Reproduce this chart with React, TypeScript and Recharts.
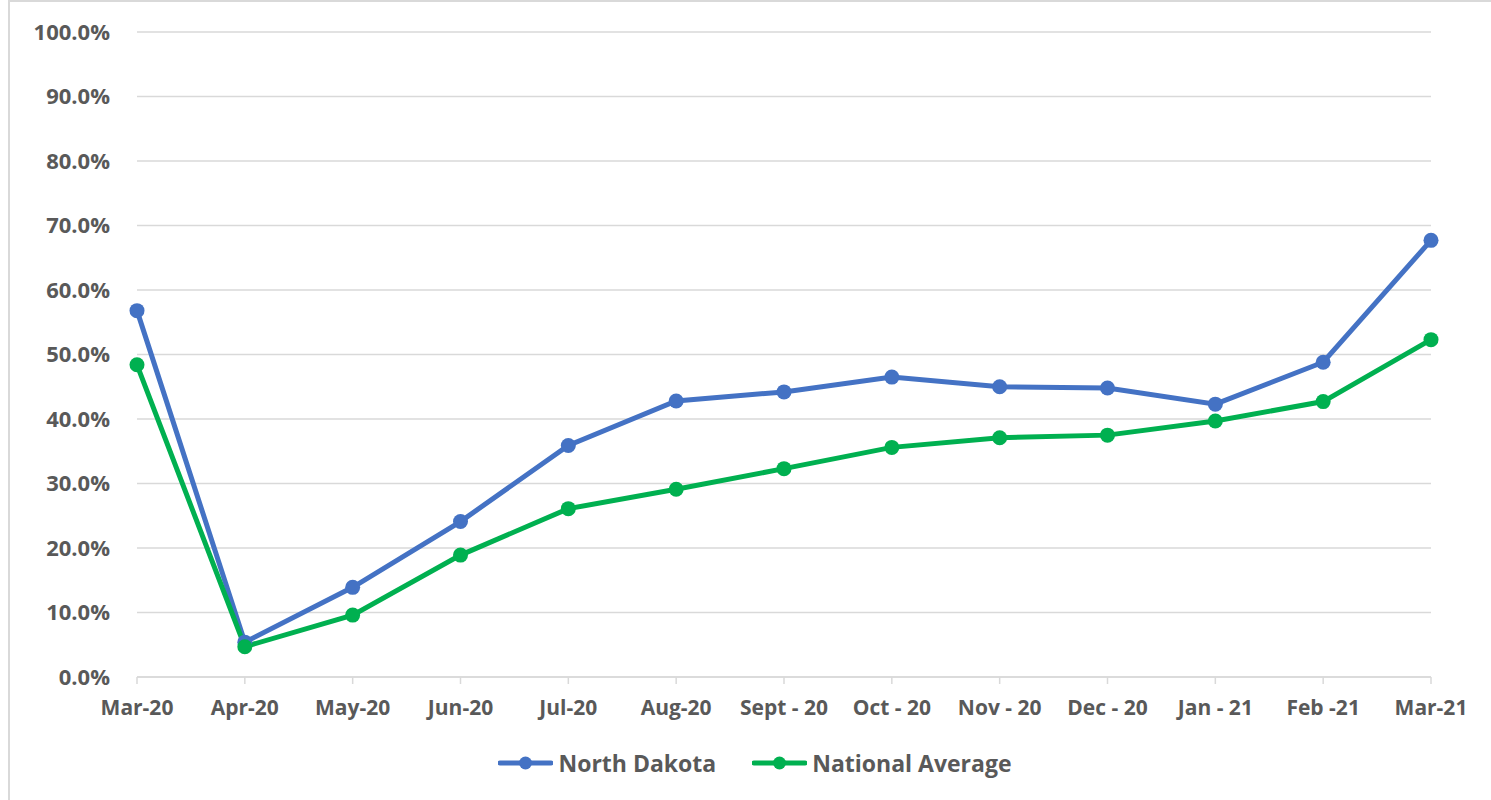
import { LineChart, Line, XAxis, YAxis, CartesianGrid } from "recharts";

const MONTHS = [
  "Mar-20",
  "Apr-20",
  "May-20",
  "Jun-20",
  "Jul-20",
  "Aug-20",
  "Sept - 20",
  "Oct - 20",
  "Nov - 20",
  "Dec - 20",
  "Jan - 21",
  "Feb -21",
  "Mar-21",
];

// percent values
const NORTH_DAKOTA = [56.8, 5.4, 13.9, 24.1, 35.9, 42.8, 44.2, 46.5, 45.0, 44.8, 42.3, 48.8, 67.7];
const NATIONAL_AVG = [48.4, 4.7, 9.6, 18.9, 26.1, 29.1, 32.3, 35.6, 37.1, 37.5, 39.7, 42.7, 52.3];

const Y_TICKS = [0, 10, 20, 30, 40, 50, 60, 70, 80, 90, 100];

const BLUE = "#4472C4";
const GREEN = "#00B050";
const GRID = "#d9d9d9";
const TEXT = "#595959";
const FONT = "'Open Sans', Lato, sans-serif";

const data = MONTHS.map((month, i) => ({
  month,
  nd: NORTH_DAKOTA[i],
  na: NATIONAL_AVG[i],
}));

const tickStyle = { fontSize: 21, fontWeight: 700, fill: TEXT, fontFamily: FONT };

export default function App() {
  return (
    <div
      style={{
        position: "absolute",
        left: 0,
        top: 0,
        width: 1491,
        height: 800,
        overflow: "hidden",
        background: "#fff",
      }}
    >
      {/* chart frame */}
      <div
        style={{
          position: "absolute",
          left: 8,
          top: 0,
          width: 1600,
          height: 900,
          border: `2px solid ${GRID}`,
        }}
      />
      <div style={{ position: "absolute", left: 0, top: 0 }}>
        <LineChart
          width={1491}
          height={800}
          data={data}
          margin={{ top: 32, right: 60, left: 0, bottom: 73 }}
        >
          <CartesianGrid vertical={false} stroke={GRID} strokeWidth={1.5} />
          <XAxis
            dataKey="month"
            height={50}
            interval={0}
            axisLine={{ stroke: GRID, strokeWidth: 1.5 }}
            tickLine={{ stroke: GRID, strokeWidth: 1.5 }}
            tickSize={7}
            tickMargin={16}
            tick={tickStyle}
          />
          <YAxis
            width={137}
            domain={[0, 100]}
            ticks={Y_TICKS}
            interval={0}
            axisLine={false}
            tickLine={false}
            tickSize={0}
            tickMargin={27}
            tick={{ ...tickStyle, fontSize: 22 }}
            tickFormatter={(v) => `${Number(v).toFixed(1)}%`}
          />
          <Line
            dataKey="nd"
            name="North Dakota"
            stroke={BLUE}
            strokeWidth={5}
            dot={{ r: 7.5, fill: BLUE, stroke: "none" }}
            activeDot={false}
            isAnimationActive={false}
          />
          <Line
            dataKey="na"
            name="National Average"
            stroke={GREEN}
            strokeWidth={5}
            dot={{ r: 7.5, fill: GREEN, stroke: "none" }}
            activeDot={false}
            isAnimationActive={false}
          />
        </LineChart>
      </div>

      {/* legend */}
      <div
        style={{
          position: "absolute",
          left: 0,
          width: 1510,
          top: 748,
          height: 30,
          display: "flex",
          justifyContent: "center",
          alignItems: "center",
          gap: 36,
        }}
      >
        <LegendItem color={BLUE} label="North Dakota" />
        <LegendItem color={GREEN} label="National Average" />
      </div>
    </div>
  );
}

function LegendItem({ color, label }: { color: string; label: string }) {
  return (
    <div style={{ display: "flex", alignItems: "center", gap: 5 }}>
      <svg width={55} height={16}>
        <line x1={2} y1={8} x2={53} y2={8} stroke={color} strokeWidth={5} strokeLinecap="round" />
        <circle cx={27.5} cy={8} r={6.5} fill={color} />
      </svg>
      <span
        style={{
          fontFamily: FONT,
          fontWeight: 700,
          fontSize: 23,
          color: TEXT,
          lineHeight: "30px",
        }}
      >
        {label}
      </span>
    </div>
  );
}
